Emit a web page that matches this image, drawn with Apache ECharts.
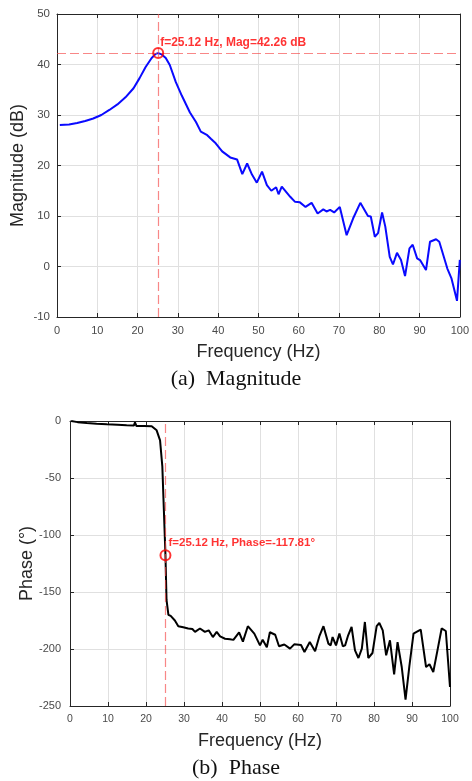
<!DOCTYPE html>
<html>
<head>
<meta charset="utf-8">
<script src="https://cdn.jsdelivr.net/npm/echarts@6/dist/echarts.min.js"></script>
<style>
  html, body { margin: 0; padding: 0; background: #ffffff; }
  #chart { width: 472px; height: 781px; }
</style>
</head>
<body>
<div id="chart"></div>
<script>
// ---- Data ----
const magFreq = [0.7, 3, 5, 7, 9, 11, 13, 15, 17, 19, 20.5, 22, 23.5, 24.5, 25.12, 26, 27, 28, 29.5, 31, 33, 34.5, 35.7, 37.3, 38.2, 39.4, 41, 43, 44.7, 46, 47.2, 48.4, 49.6, 50.9, 52.1, 53.2, 54.4, 55, 55.8, 57.9, 59.1, 60.3, 61.7, 63.2, 64.7, 66.1, 66.9, 67.8, 68.8, 70.2, 71.9, 73.5, 75.3, 77.2, 77.9, 78.9, 79.7, 80.7, 81.5, 82.6, 83.4, 84.4, 85.4, 86.4, 87.5, 88.3, 89.4, 90.2, 91.6, 92.6, 94.1, 94.9, 96.9, 97.9, 99.3, 100];
const magDb = [28.0, 28.1, 28.4, 28.8, 29.3, 30.0, 31.0, 32.1, 33.5, 35.3, 37.3, 39.5, 41.3, 42.1, 42.26, 42.0, 41.3, 39.9, 36.5, 33.8, 30.5, 28.6, 26.7, 26.0, 25.3, 24.4, 22.8, 21.6, 21.2, 18.3, 20.4, 18.2, 16.6, 18.8, 16.1, 15.0, 15.7, 14.3, 15.8, 13.8, 12.8, 12.7, 11.8, 12.6, 10.5, 11.3, 10.9, 11.2, 10.7, 11.8, 6.2, 9.5, 12.6, 10.0, 9.9, 5.9, 6.6, 10.7, 7.9, 1.9, 0.4, 2.7, 1.3, -1.9, 3.6, 4.3, 1.6, 1.2, -0.7, 4.9, 5.4, 4.9, -0.4, -2.3, -6.8, 1.3];

const phaseFreq = [0.3, 2, 4.4, 7, 9.7, 12.5, 14.9, 16.8, 17.1, 17.5, 19.5, 21.5, 22.8, 23.7, 24.3, 24.7, 25.12, 25.4, 25.9, 26.5, 26.8, 27.6, 28.5, 29.8, 31.1, 32.2, 32.9, 34.2, 35.5, 36.5, 37.6, 38.6, 39.5, 40.8, 42.1, 43, 44.5, 45.5, 46.8, 48.5, 50, 50.7, 51.8, 52.6, 54, 55, 56.4, 57.9, 59, 60.8, 61.7, 63.1, 64.5, 65.6, 66.7, 68, 68.6, 69.1, 70, 70.9, 71.8, 72.4, 73.2, 74.1, 75, 75.9, 76.8, 77.6, 78.5, 79.6, 80.7, 81.4, 82.3, 83.2, 84.2, 85.3, 86.2, 87.3, 88.3, 89.3, 90.4, 91.2, 92.3, 93.7, 94.6, 95.6, 96.7, 97.8, 98.9, 100];
const phaseDeg = [0, -1, -1.8, -2.4, -2.9, -3.3, -3.8, -4.0, -1.2, -4.4, -4.4, -4.6, -8.2, -17, -40, -78, -117.81, -157, -170, -171, -170.4, -175, -180, -181, -182, -182.5, -185, -182, -185, -183.6, -189.5, -185, -189, -191, -191.5, -192, -185.5, -193.5, -180, -186.5, -196.8, -191.8, -198.5, -185.3, -187.5, -197.6, -196, -199.7, -195.9, -196.5, -202.6, -193.9, -202, -189, -180, -195.3, -196.8, -189.5, -196.8, -186.5, -197.6, -196.8, -188, -180.7, -201.2, -207.9, -199.7, -176.3, -207.9, -203.5, -180, -177.2, -183.6, -205.5, -192.4, -222.2, -193.9, -215.8, -244.4, -215.2, -186.5, -185, -183, -215.8, -213.4, -220.2, -201.2, -182, -184.2, -233.3];

const peakFreq = 25.12;
const peakMag = 42.26;
const peakPhase = -117.81;

const magLabel = 'f=25.12 Hz, Mag=42.26 dB';
const phaseLabel = 'f=25.12 Hz, Phase=-117.81°';
const magTitle = 'Magnitude (dB)';
const phaseTitle = 'Phase (°)';
const xTitle = 'Frequency (Hz)';
const captionA = '(a)  Magnitude';
const captionB = '(b)  Phase';

// ---- Chart ----
const AXIS = '#262626';
const GRIDC = '#e0e0e0';
const LABELC = '#4a4a4a';
const RED = '#ff0000';
const DASH = 'rgba(245,70,70,0.65)';
const SANS = '"Liberation Sans", Arial, sans-serif';

function zip(a, b) { return a.map((v, i) => [v, b[i]]); }

function mainX(gridIndex, fontSize, margin) {
  return {
    type: 'value', gridIndex, position: 'bottom', min: 0, max: 100, interval: 10,
    name: xTitle, nameLocation: 'middle', nameGap: 26, nameMoveOverlap: false,
    nameTextStyle: { color: AXIS, fontSize: 18, fontFamily: SANS },
    axisLine: { show: true, onZero: false, lineStyle: { color: AXIS, width: 1 } },
    axisTick: { show: true, inside: true, length: 4, lineStyle: { color: AXIS } },
    axisLabel: { color: LABELC, fontSize, fontFamily: SANS, margin },
    splitLine: { show: true, lineStyle: { color: GRIDC, width: 1 } }
  };
}
function boxX(gridIndex) {
  return {
    type: 'value', gridIndex, position: 'top', min: 0, max: 100, interval: 10,
    axisLine: { show: true, onZero: false, lineStyle: { color: AXIS, width: 1 } },
    axisTick: { show: true, inside: true, length: 4, lineStyle: { color: AXIS } },
    axisLabel: { show: false }, splitLine: { show: false }
  };
}
function mainY(gridIndex, min, max, interval, name, nameGap, fontSize, margin) {
  return {
    type: 'value', gridIndex, position: 'left', min, max, interval,
    name, nameLocation: 'middle', nameGap, nameMoveOverlap: false,
    nameTextStyle: { color: AXIS, fontSize: 18, fontFamily: SANS },
    axisLine: { show: true, onZero: false, lineStyle: { color: AXIS, width: 1 } },
    axisTick: { show: true, inside: true, length: 4, lineStyle: { color: AXIS } },
    axisLabel: { color: LABELC, fontSize, fontFamily: SANS, margin },
    splitLine: { show: true, lineStyle: { color: GRIDC, width: 1 } }
  };
}
function boxY(gridIndex, min, max, interval) {
  return {
    type: 'value', gridIndex, position: 'right', min, max, interval,
    axisLine: { show: true, onZero: false, lineStyle: { color: AXIS, width: 1 } },
    axisTick: { show: true, inside: true, length: 4, lineStyle: { color: AXIS } },
    axisLabel: { show: false }, splitLine: { show: false }
  };
}

const chart = echarts.init(document.getElementById('chart'), null, { renderer: 'canvas' });
chart.setOption({
  animation: false,
  backgroundColor: '#ffffff',
  grid: [
    { left: 57, top: 14, width: 406, height: 303 },
    { left: 70, top: 421, width: 380, height: 285 }
  ],
  xAxis: [mainX(0, 11, 8), boxX(0), mainX(1, 10.5, 8), boxX(1)],
  yAxis: [
    mainY(0, -10, 50, 10, magTitle, 30, 11.5, 7), boxY(0, -10, 50, 10),
    mainY(1, -250, 0, 50, phaseTitle, 34, 11, 9), boxY(1, -250, 0, 50)
  ],
  graphic: [
    { type: 'text', left: 'center', top: 368, style: { text: captionA, font: '22px "Liberation Serif", "Times New Roman", serif', fill: '#111' } },
    { type: 'text', left: 'center', top: 757, style: { text: captionB, font: '22px "Liberation Serif", "Times New Roman", serif', fill: '#111' } }
  ],
  series: [
    {
      type: 'line', xAxisIndex: 0, yAxisIndex: 0, data: zip(magFreq, magDb),
      showSymbol: false, symbol: 'none', smooth: false,
      lineStyle: { color: '#0a0aff', width: 2 },
      markLine: {
        silent: true, symbol: 'none', label: { show: false },
        lineStyle: { color: DASH, width: 1.2, type: [9, 4] },
        data: [{ xAxis: peakFreq }, { yAxis: peakMag }]
      },
      z: 3
    },
    {
      type: 'scatter', xAxisIndex: 0, yAxisIndex: 0, data: [[peakFreq, peakMag]],
      symbol: 'circle', symbolSize: 10,
      itemStyle: { color: 'rgba(0,0,0,0)', borderColor: RED, borderWidth: 2 },
      label: { show: true, formatter: magLabel, position: [8, -10], align: 'left', verticalAlign: 'top',
        color: RED, fontWeight: 'bold', fontSize: 12, fontFamily: SANS },
      z: 5
    },
    {
      type: 'line', xAxisIndex: 2, yAxisIndex: 2, data: zip(phaseFreq, phaseDeg),
      showSymbol: false, symbol: 'none', smooth: false,
      lineStyle: { color: '#000000', width: 2 },
      markLine: {
        silent: true, symbol: 'none', label: { show: false },
        lineStyle: { color: DASH, width: 1.2, type: [9, 4] },
        data: [{ xAxis: peakFreq }]
      },
      z: 3
    },
    {
      type: 'scatter', xAxisIndex: 2, yAxisIndex: 2, data: [[peakFreq, peakPhase]],
      symbol: 'circle', symbolSize: 10,
      itemStyle: { color: 'rgba(0,0,0,0)', borderColor: RED, borderWidth: 2 },
      label: { show: true, formatter: phaseLabel, position: [9, -12], align: 'left', verticalAlign: 'top',
        color: RED, fontWeight: 'bold', fontSize: 11.5, fontFamily: SANS },
      z: 5
    }
  ]
});
</script>
</body>
</html>
